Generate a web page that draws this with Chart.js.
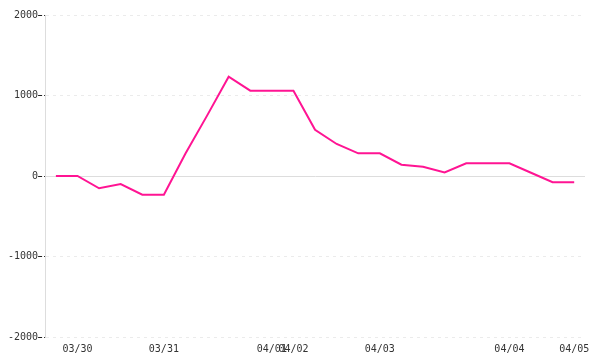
<!DOCTYPE html>
<html>
<head>
<meta charset="utf-8">
<script src="https://cdn.jsdelivr.net/npm/chart.js@4"></script>
<style>
  html, body { margin: 0; padding: 0; background: #fff; }
  #wrap { width: 600px; height: 360px; }
</style>
</head>
<body>
<div id="wrap"><canvas id="c"></canvas></div>
<script>
/* ── Data ── */
const dates = [
  '', '03/30', '', '', '', '03/31', '', '', '', '', '04/01', '04/02', '',
  '', '', '04/03', '', '', '', '', '', '04/04', '', '', '04/05',
];
const values = [
  0, 0, -153, -100, -232, -232, 280, 750, 1233, 1060, 1060, 1060, 575,
  398, 282, 282, 141, 116, 45, 157, 157, 157, 40, -78, -78,
];
const yTicks = [-2000, -1000, 0, 1000, 2000];

const FONT = { family: 'DejaVu Sans Mono', size: 10 };

/* ── Chart ── */
new Chart(document.getElementById('c').getContext('2d'), {
  type: 'line',
  data: {
    labels: dates,
    datasets: [{
      data: values,
      borderColor: '#ff1493',
      borderWidth: 2,
      pointRadius: 0,
      pointHoverRadius: 0,
      fill: false,
      tension: 0,
    }],
  },
  options: {
    responsive: true,
    maintainAspectRatio: false,
    animation: false,
    layout: { padding: { left: 8, right: 15, top: 15, bottom: -1 } },
    plugins: { legend: { display: false }, tooltip: { enabled: false } },
    scales: {
      x: {
        offset: true,
        grid: { display: false, drawTicks: false },
        border: { display: false },
        ticks: {
          font: FONT, color: '#333',
          autoSkip: false, maxRotation: 0, padding: 6,
        },
      },
      y: {
        min: yTicks[0],
        max: yTicks[yTicks.length - 1],
        afterBuildTicks: s => { s.ticks = yTicks.map(v => ({ value: v })); },
        grid: {
          color: c => (c.tick && c.tick.value === 0 ? '#dddddd' : '#ebebeb'),
          tickColor: '#222',
          tickLength: 7,
          tickBorderDash: [4, 2],
        },
        border: {
          color: '#dddddd',
          dash: c => (c.tick && c.tick.value === 0 ? [] : [3, 4]),
        },
        ticks: { font: FONT, color: '#333', padding: 0, callback: v => String(v) },
      },
    },
  },
});
</script>
</body>
</html>
